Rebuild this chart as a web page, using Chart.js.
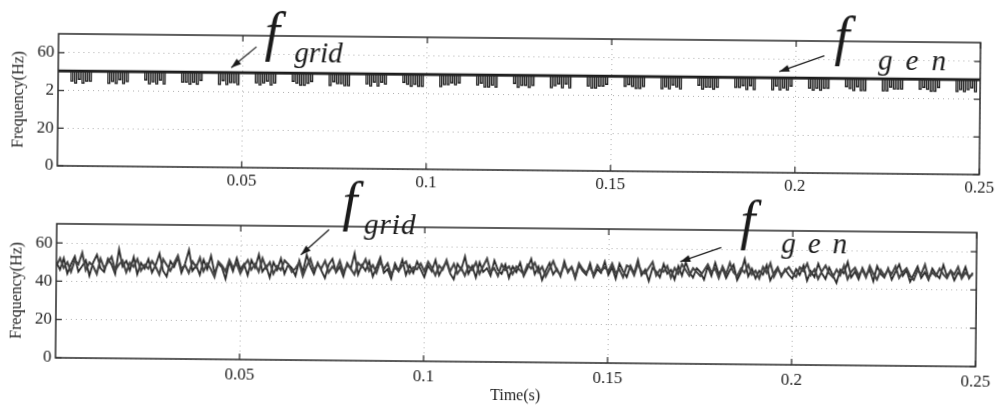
<!DOCTYPE html>
<html>
<head>
<meta charset="utf-8">
<script src="https://cdn.jsdelivr.net/npm/chart.js@4.4.0/dist/chart.umd.min.js"></script>
<style>
  html, body { margin: 0; padding: 0; background: #fff; }
  /* the scanned figure is tilted a little */
  #fig { width: 997px; height: 405px; transform: rotate(0.55deg); transform-origin: 498px 202px; }
  .box { position: relative; width: 997px; }
</style>
</head>
<body>
<div id="fig">
  <div class="box" style="height:200px"><canvas id="topChart"></canvas></div>
  <div class="box" style="height:245px; margin-top:-40px"><canvas id="botChart"></canvas></div>
</div>
<script>
// ---- data ----
const xTicks = [0.05, 0.1, 0.15, 0.2, 0.25];
const xTickLabels = ['0.05', '0.1', '0.15', '0.2', '0.25'];
const yTicks = [0, 20, 40, 60];
const topYLabels = ['0', '20', '2', '60'];   // as printed in the scan
const botYLabels = ['0', '20', '40', '60'];

// upper plot: f_grid flat, f_gen sampled every 0.5 ms (one row = 10 ms)
const topGridTimes = [0, 0.25];
const topGridValues = [50.3, 50.3];
const dtTop = 0.0005;
const topGenValues = [
  50,50,50,50,50,50,50,45,50,44,50,46,50,44,50,45,50,45,50,50,
  50,50,50,50,50,50,50,44,50,45,50,44,50,46,50,44,50,45,50,50,
  50,50,50,50,50,50,50,46,50,44,50,45,50,44,50,46,50,44,50,50,
  50,50,50,50,50,50,50,45,50,45,50,44,50,45,50,44,50,46,50,50,
  50,50,50,50,50,50,50,44,50,46,50,44,50,45,50,45,50,44,50,50,
  50,50,50,50,50,50,50,45,50,44,50,45,50,46,50,44,50,45,50,50,
  50,50,50,50,50,50,50,46,50,45,50,44,50,44,50,45,50,46,50,50,
  50,50,50,50,50,50,50,44,50,46,50,45,50,45,50,44,50,44,50,50,
  50,50,50,50,50,50,50,45,50,44,50,46,50,44,50,46,50,45,50,50,
  50,50,50,50,50,50,50,46,50,45,50,44,50,45,50,44,50,44,50,50,
  50,50,50,50,50,50,50,44,50,45,50,45,50,46,50,45,50,46,50,50,
  50,50,50,50,50,50,50,45,50,46,50,44,50,44,50,45,50,44,50,50,
  50,50,50,50,50,50,50,46,50,44,50,45,50,45,50,44,50,45,50,50,
  50,50,50,50,50,50,50,44,50,45,50,46,50,44,50,46,50,44,50,50,
  50,50,50,50,50,50,50,45,50,44,50,44,50,45,50,45,50,46,50,50,
  50,50,50,50,50,50,50,45,50,46,50,45,50,44,50,44,50,45,50,50,
  50,50,50,50,50,50,50,44,50,45,50,44,50,46,50,45,50,44,50,50,
  50,50,50,50,50,50,50,46,50,44,50,45,50,45,50,44,50,45,50,50,
  50,50,50,50,50,50,50,45,50,45,50,46,50,44,50,46,50,44,50,50,
  50,50,50,50,50,50,50,44,50,46,50,44,50,45,50,44,50,46,50,50,
  50,50,50,50,50,50,50,45,50,44,50,45,50,44,50,45,50,45,50,50,
  50,50,50,50,50,50,50,46,50,45,50,44,50,46,50,44,50,44,50,50,
  50,50,50,50,50,50,50,44,50,44,50,46,50,45,50,45,50,45,50,50,
  50,50,50,50,50,50,50,45,50,46,50,45,50,44,50,44,50,46,50,50,
  50,50,50,50,50,50,50,44,50,45,50,44,50,45,50,46,50,44,50,50
];

// lower plot: both signals noisy, sampled every 1 ms (one row = 25 ms)
const dtBot = 0.001;
const botGenValues = [
  50,46,52,44,49,53,45,48,51,43,50,54,47,45,52,49,44,57,48,51,46,53,44,50,47,
  52,45,49,55,46,43,51,48,53,45,50,57,46,49,44,52,47,54,45,50,48,42,51,46,53,
  47,50,44,52,48,55,46,49,43,51,47,53,45,50,48,44,52,46,55,49,45,51,47,43,50,
  53,46,49,44,51,48,56,45,50,47,52,44,49,54,46,48,43,51,47,53,45,50,46,52,48,
  44,50,47,53,45,49,52,46,43,51,48,55,46,50,44,52,47,49,45,53,48,46,51,44,50,
  47,52,45,49,54,46,50,43,48,52,46,49,45,53,47,50,44,51,48,46,52,45,49,47,53,
  46,50,44,52,48,45,51,47,54,46,49,43,50,48,45,52,47,49,44,51,46,53,48,45,50,
  48,44,51,46,53,47,50,45,49,52,44,48,55,46,50,45,49,47,52,44,48,51,46,50,47,
  45,50,47,52,44,49,46,53,48,45,51,47,43,50,48,54,46,49,45,51,47,50,44,52,48,
  46,51,45,49,53,47,50,44,48,52,46,49,45,51,48,46,53,47,50,45,49,47,52,46,49
];
const botGridValues = [
  48,52,47,50,45,51,49,55,46,50,48,44,52,47,50,53,46,49,51,45,50,48,52,46,49,
  47,51,48,44,52,49,46,50,54,47,49,45,51,48,53,46,50,47,43,51,49,46,52,48,50,
  45,49,52,47,50,46,53,48,51,45,49,47,52,50,46,48,51,44,49,53,47,50,48,52,46,
  49,47,52,46,50,48,45,51,49,53,47,50,46,52,48,51,45,49,47,50,52,46,49,48,51,
  47,52,49,45,50,48,53,47,51,46,49,45,50,48,52,46,50,54,47,49,45,51,48,50,46,
  50,48,46,51,49,52,47,50,45,49,53,48,46,51,48,50,45,52,49,47,50,46,51,48,50,
  48,52,47,49,45,51,50,46,52,48,47,50,53,46,49,48,51,45,50,47,52,49,46,50,48,
  46,49,52,48,50,45,51,47,53,48,46,50,48,52,47,49,45,51,48,53,46,50,47,49,51,
  48,46,51,49,53,47,50,45,49,52,48,46,50,47,52,45,49,51,47,50,46,52,48,45,50,
  47,50,48,52,46,49,51,47,45,50,48,53,46,49,47,51,48,46,50,48,52,46,49,47,48
];

// labels with arrows, placed in data units (t in s, value in Hz)
const topNotes = [
  { sub: 'grid', t: 0.0559, v: 62.5, subT: 0.0640, subV: 56.4, spacing: 0, at: [0.0537, 64.1, 0.0469, 52.9] },
  { sub: 'gen',  t: 0.2104, v: 63.0, subT: 0.2223, subV: 55.3, spacing: 13, at: [0.2077, 62.2, 0.1955, 53.6] }
];
const botNotes = [
  { sub: 'grid', t: 0.0776, v: 73.5, subT: 0.0835, subV: 66.5, spacing: 1, at: [0.0740, 68.3, 0.0664, 55.0] },
  { sub: 'gen',  t: 0.1857, v: 65.7, subT: 0.1969, subV: 58.7, spacing: 12, at: [0.1806, 60.9, 0.1695, 53.3] }
];

const SERIF = '"Liberation Serif", "DejaVu Serif", serif';

function series(values, dt) {
  return values.map((v, i) => ({ x: i * dt, y: v }));
}

// frame with inward ticks on all four sides, then the labels and arrows
const framePlugin = {
  id: 'frame',
  afterDraw(chart) {
    const ctx = chart.ctx;
    const a = chart.chartArea;
    const xs = chart.scales.x, ys = chart.scales.y;
    ctx.save();
    ctx.strokeStyle = '#2a2a2a';
    ctx.lineWidth = 1.5;
    ctx.strokeRect(a.left, a.top, a.right - a.left, a.bottom - a.top);
    ctx.lineWidth = 1.2;
    ctx.beginPath();
    xTicks.forEach(t => {
      const px = xs.getPixelForValue(t);
      ctx.moveTo(px, a.bottom); ctx.lineTo(px, a.bottom - 6);
      ctx.moveTo(px, a.top); ctx.lineTo(px, a.top + 6);
    });
    yTicks.forEach(v => {
      const py = ys.getPixelForValue(v);
      ctx.moveTo(a.left, py); ctx.lineTo(a.left + 6, py);
      ctx.moveTo(a.right, py); ctx.lineTo(a.right - 6, py);
    });
    ctx.stroke();

    const notes = chart.options.plugins.frame.notes;
    notes.forEach(n => {
      ctx.fillStyle = '#1a1a1a';
      ctx.textAlign = 'left';
      ctx.textBaseline = 'alphabetic';
      ctx.font = 'italic 54px ' + SERIF;
      ctx.fillText('f', xs.getPixelForValue(n.t), ys.getPixelForValue(n.v));
      ctx.font = 'italic 29px ' + SERIF;
      ctx.letterSpacing = n.spacing + 'px';
      ctx.fillText(n.sub, xs.getPixelForValue(n.subT), ys.getPixelForValue(n.subV));
      ctx.letterSpacing = '0px';
      // arrow
      const x1 = xs.getPixelForValue(n.at[0]), y1 = ys.getPixelForValue(n.at[1]);
      const x2 = xs.getPixelForValue(n.at[2]), y2 = ys.getPixelForValue(n.at[3]);
      const ang = Math.atan2(y2 - y1, x2 - x1);
      ctx.strokeStyle = '#222';
      ctx.lineWidth = 1.3;
      ctx.beginPath();
      ctx.moveTo(x1, y1); ctx.lineTo(x2, y2);
      ctx.stroke();
      ctx.beginPath();
      ctx.moveTo(x2, y2);
      ctx.lineTo(x2 - 10 * Math.cos(ang) + 3.5 * Math.sin(ang), y2 - 10 * Math.sin(ang) - 3.5 * Math.cos(ang));
      ctx.lineTo(x2 - 10 * Math.cos(ang) - 3.5 * Math.sin(ang), y2 - 10 * Math.sin(ang) + 3.5 * Math.cos(ang));
      ctx.closePath();
      ctx.fill();
    });
    ctx.restore();
  }
};

function makeOptions(o) {
  return {
    responsive: true,
    maintainAspectRatio: false,
    animation: false,
    layout: { padding: { top: o.padTop, right: 18, left: 0, bottom: 0 } },
    plugins: {
      legend: { display: false },
      tooltip: { enabled: false },
      frame: { notes: o.notes }
    },
    scales: {
      x: {
        type: 'linear',
        min: 0,
        max: 0.25,
        afterBuildTicks: s => { s.ticks = xTicks.map(v => ({ value: v })); },
        afterFit: s => { s.height = o.xHeight; },
        grid: { color: '#b0b0b0', lineWidth: 1, drawTicks: false },
        border: { display: false, dash: [1, 4] },
        ticks: {
          padding: o.xPad,
          color: '#1e1e1e',
          font: { family: SERIF, size: 17 },
          maxRotation: 0,
          autoSkip: false,
          callback: (v, i) => xTickLabels[i]
        },
        title: o.xTitle ? {
          display: true,
          text: o.xTitle,
          color: '#1e1e1e',
          font: { family: SERIF, size: 16, lineHeight: 1.2 },
          padding: { top: 0, bottom: 0 }
        } : { display: false }
      },
      y: {
        min: 0,
        max: 70,
        afterBuildTicks: s => { s.ticks = yTicks.map(v => ({ value: v })); },
        afterFit: s => { s.width = 57; },
        grid: { color: '#b0b0b0', lineWidth: 1, drawTicks: false },
        border: { display: false, dash: [1, 4] },
        ticks: {
          padding: 4,
          color: '#1e1e1e',
          font: { family: SERIF, size: 17 },
          callback: (v, i) => o.yLabels[i]
        },
        title: {
          display: true,
          text: 'Frequency(Hz)',
          color: '#1e1e1e',
          font: { family: SERIF, size: 16, lineHeight: 1.2 },
          padding: { top: 8, bottom: 0 }
        }
      }
    }
  };
}

new Chart(document.getElementById('topChart'), {
  type: 'line',
  data: {
    datasets: [
      {
        label: 'f_gen',
        data: series(topGenValues, dtTop),
        borderColor: '#222222',
        borderWidth: 1.3,
        pointRadius: 0,
        stepped: true
      },
      {
        label: 'f_grid',
        data: topGridTimes.map((t, i) => ({ x: t, y: topGridValues[i] })),
        borderColor: '#1a1a1a',
        borderWidth: 2.6,
        pointRadius: 0,
        tension: 0
      }
    ]
  },
  options: makeOptions({ padTop: 38, xHeight: 30, xPad: 3, yLabels: topYLabels, notes: topNotes }),
  plugins: [framePlugin]
});

new Chart(document.getElementById('botChart'), {
  type: 'line',
  data: {
    datasets: [
      {
        label: 'f_grid',
        data: series(botGridValues, dtBot),
        borderColor: '#444444',
        borderWidth: 2.1,
        pointRadius: 0,
        tension: 0
      },
      {
        label: 'f_gen',
        data: series(botGenValues, dtBot),
        borderColor: '#2a2a2a',
        borderWidth: 1.8,
        pointRadius: 0,
        tension: 0
      }
    ]
  },
  options: makeOptions({ padTop: 68, xHeight: 43, xPad: 5, yLabels: botYLabels, notes: botNotes, xTitle: 'Time(s)' }),
  plugins: [framePlugin]
});
</script>
</body>
</html>
